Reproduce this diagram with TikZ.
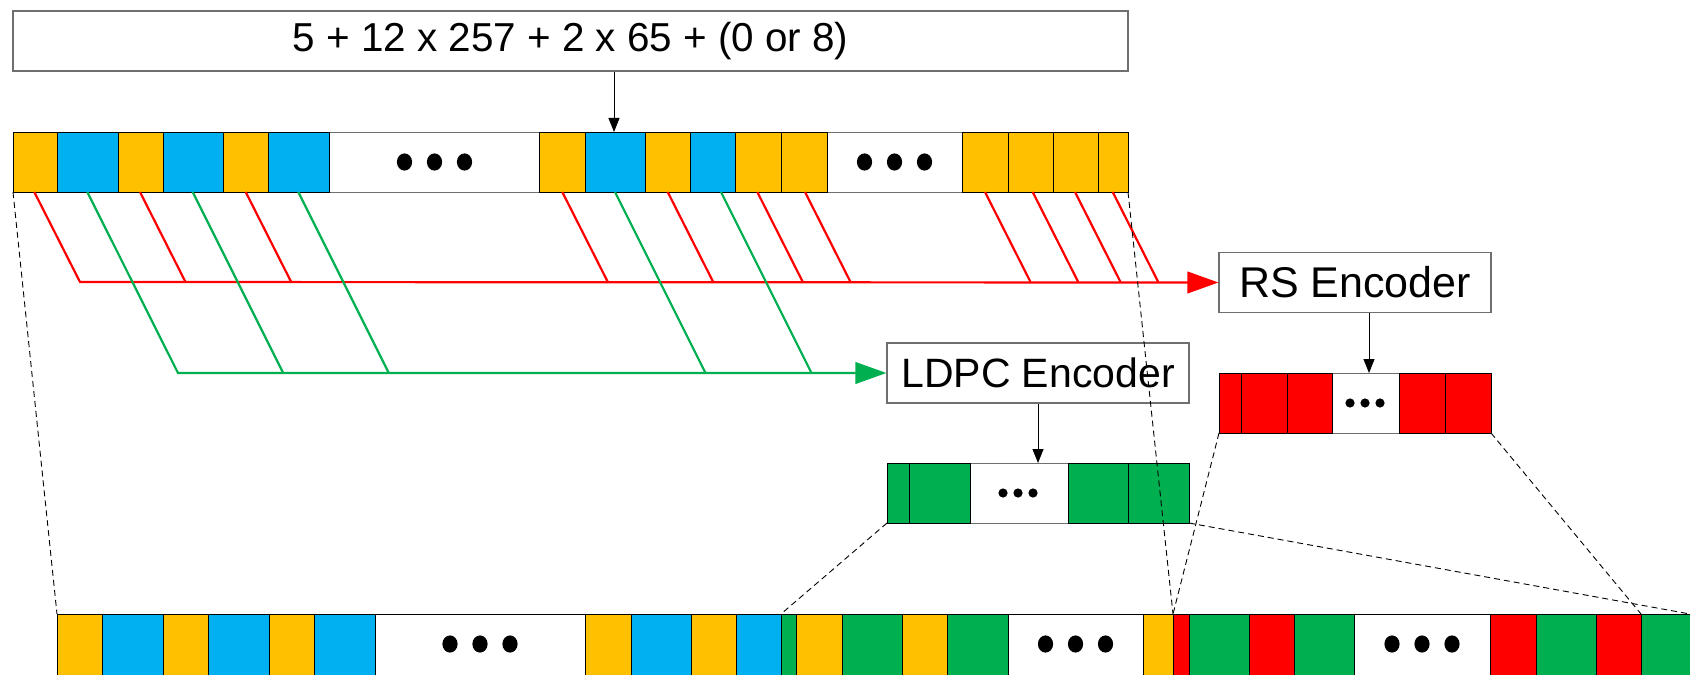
\documentclass[tikz,border=0pt]{standalone}
\usepackage{fontspec}
\setmainfont{Liberation Sans}
\usetikzlibrary{arrows.meta}
\definecolor{cOr}{HTML}{FFC000}
\definecolor{cBl}{HTML}{00B0F0}
\definecolor{cGr}{HTML}{00B050}
\definecolor{cRd}{HTML}{FF0000}
\definecolor{cBd}{HTML}{6F6F6F}
\begin{document}
\begin{tikzpicture}[x=0.5pt,y=-0.5pt,
  cell/.style={draw=black, line width=0.5pt},
  wcell/.style={draw=cBd, line width=0.5pt, fill=white},
  textbox/.style={draw=cBd, line width=0.6pt, fill=white, inner sep=0pt,
     font=\fontsize{20.5pt}{24pt}\selectfont},
  arr/.style={draw=black, line width=0.5pt, -{Triangle[length=7pt,width=5.5pt]}},
  redln/.style={draw=cRd, line width=1.1pt, line join=miter},
  grnln/.style={draw=cGr, line width=1.1pt, line join=miter},
  bigtip/.style={-{Triangle[length=15.5pt,width=10.8pt]}},
  dashln/.style={draw=black, line width=0.45pt, dash pattern=on 3pt off 2pt},
  bigdot/.style={fill=black},
]
\useasboundingbox (0,0) rectangle (1690,674);

% ---- boxes ----
\node[textbox, minimum width=557.5pt, minimum height=30pt, font=\fontsize{20.2pt}{24pt}\selectfont] (formula) at (570.5,41) {5 + 12 x 257 + 2 x 65 + (0 or 8)};
\node[textbox, minimum width=136pt, minimum height=30pt, font=\fontsize{21.5pt}{24pt}\selectfont] (rs) at (1355,282.5) {RS Encoder};
\node[textbox, minimum width=151pt, minimum height=30pt] (ldpc) at (1038,373) {LDPC Encoder};

% ---- top bar ----
\foreach \a/\b in {329/539, 827/962}
  \draw[wcell] (\a,132) rectangle (\b,192);
\foreach \a/\b/\c in {13/57/cOr,57/118/cBl,118/163/cOr,163/223/cBl,223/268/cOr,268/329/cBl,
   539/585/cOr,585/645/cBl,645/690/cOr,690/735/cBl,735/781/cOr,781/827/cOr,
   962/1008/cOr,1008/1053/cOr,1053/1098/cOr,1098/1128/cOr}
  \draw[cell, fill=\c] (\a,132) rectangle (\b,192);
\foreach \x in {404.5,434.5,464.5,864.5,894.5,924.5}
  \fill[bigdot] (\x,162) ellipse [x radius=3.8pt, y radius=4.3pt];

% ---- LDPC output bar ----
\draw[wcell] (970,463) rectangle (1068,523);
\foreach \a/\b in {887/909,909/970,1068/1128,1128/1189}
  \draw[cell, fill=cGr] (\a,463) rectangle (\b,523);
\foreach \x in {1003,1018,1033}
  \fill[bigdot] (\x,493) circle [radius=2.3pt];

% ---- RS output bar ----
\draw[wcell] (1332,373) rectangle (1399,433);
\foreach \a/\b in {1219/1241,1241/1287,1287/1332,1399/1445,1445/1491}
  \draw[cell, fill=cRd] (\a,373) rectangle (\b,433);
\foreach \x in {1350,1365,1380}
  \fill[bigdot] (\x,403) circle [radius=2.3pt];

% ---- bottom bar ----
\foreach \a/\b in {375/585, 1008/1143, 1354/1490}
  \draw[cell, fill=white] (\a,614) rectangle (\b,676);
\foreach \a/\b/\c in {57/102/cOr,102/163/cBl,163/208/cOr,208/269/cBl,269/314/cOr,314/375/cBl,
   585/631/cOr,631/691/cBl,691/736/cOr,736/781/cBl,781/796/cGr,796/842/cOr,842/902/cGr,902/947/cOr,947/1008/cGr,
   1143/1173/cOr,1173/1189/cRd,1189/1249/cGr,1249/1294/cRd,1294/1354/cGr,
   1490/1536/cRd,1536/1596/cGr,1596/1641/cRd,1641/1700/cGr}
  \draw[cell, fill=\c] (\a,614) rectangle (\b,676);
\foreach \x in {450,480,510,1045.5,1075.5,1105.5,1392,1422,1452}
  \fill[bigdot] (\x,644) ellipse [x radius=3.8pt, y radius=4.3pt];

% ---- coordinates ----
\coordinate (tbSW) at (13,192);
\coordinate (tbSE) at (1128,192);
\coordinate (bbA) at (57,614);
\coordinate (bbB) at (1173,614);
\coordinate (bbC) at (781,614);
\coordinate (bbD) at (1641,614);
\coordinate (bbE) at (1690,614);
\coordinate (ldSW) at (887,523);
\coordinate (ldSE) at (1189,523);
\coordinate (rsSW) at (1219,433);
\coordinate (rsSE) at (1491,433);
\coordinate (tbIn) at (614,132);
\coordinate (ldIn) at (1038,463);
\coordinate (rsIn) at (1369,373);
\coordinate (redL) at (80,282);
\coordinate (grnL) at (178,373);

% ---- arrows into bars ----
\draw[arr] (formula.south -| tbIn) -- (tbIn);
\draw[arr] (ldpc.south -| ldIn) -- (ldIn);
\draw[arr] (rs.south -| rsIn) -- (rsIn);

% ---- red connectors ----
\draw[redln, bigtip] (34.3,192) -- (redL) -- (rs.west);
\foreach \s in {140,245.7,562.3,667.7,757.3,805,985,1032.7,1075,1112.7}
  \draw[redln] (\s,192) -- ++(45.5,90);

% ---- green connectors ----
\draw[grnln, bigtip] (87.3,192) -- (grnL) -- (ldpc.west);
\foreach \s in {192.7,298.3,615,721}
  \draw[grnln] (\s,192) -- ++(90.5,181);

% ---- dashed guide lines ----
\draw[dashln] (tbSW) -- (bbA);
\draw[dashln] (tbSE) -- (bbB);
\draw[dashln] (ldSW) -- (bbC);
\draw[dashln] (ldSE) -- (bbE);
\draw[dashln] (rsSW) -- (bbB);
\draw[dashln] (rsSE) -- (bbD);
\end{tikzpicture}
\end{document}
